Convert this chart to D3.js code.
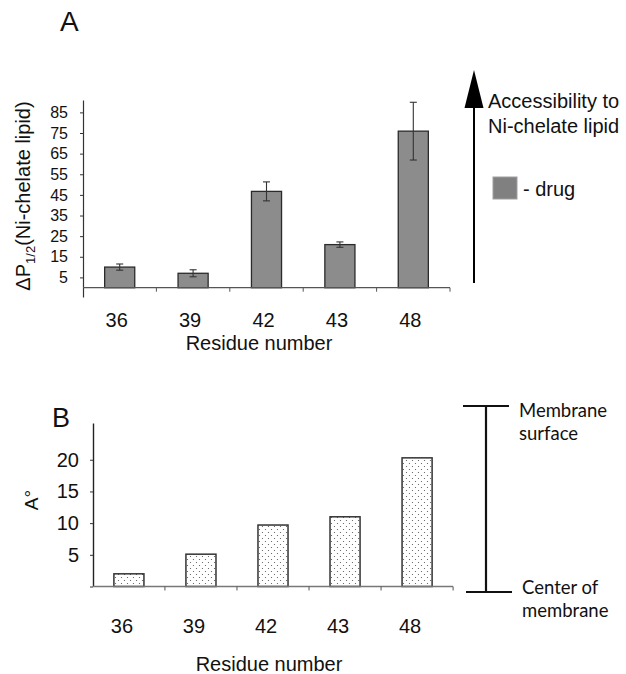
<!DOCTYPE html>
<html>
<head>
<meta charset="utf-8">
<script src="https://cdn.jsdelivr.net/npm/d3@7"></script>
<style>
  body { margin: 0; background: #fff; }
  svg text { font-family: "Liberation Sans", Arial, sans-serif; fill: #111; }
  .note { font-family: Lato, "Open Sans", sans-serif; }
</style>
</head>
<body>
<div class="figure"></div>
<script>
//residues on the x axis (same for both panels)
const residues = ['36', '39', '42', '43', '48'];

//panel A: delta P1/2 with error bars
const accessValues = [10, 7, 46.7, 20.9, 75.9];
const accessErrors = [1.5, 1.7, 4.6, 1.3, 14];
const accessTicks = [5, 15, 25, 35, 45, 55, 65, 75, 85];

//panel B: depth in angstrom
const depthValues = [2, 5.1, 9.7, 11, 20.3];
const depthTicks = [0, 5, 10, 15, 20];

const svg = d3.select('.figure')
    .append('svg')
    .attr('width', 626)
    .attr('height', 674);

//dotted fill for panel B bars
const pattern = svg.append('defs')
    .append('pattern')
    .attr('id', 'dots')
    .attr('patternUnits', 'userSpaceOnUse')
    .attr('width', 6)
    .attr('height', 6);
pattern.append('rect').attr('width', 6).attr('height', 6).attr('fill', '#fff');
pattern.selectAll('circle')
    .data([[1.5, 1.5], [4.5, 4.5]])
    .enter()
    .append('circle')
    .attr('cx', d => d[0])
    .attr('cy', d => d[1])
    .attr('r', 0.6)
    .attr('fill', '#555');

//tick lines between the bands, hanging below the baseline
function bandTicks(g, x, y0) {
    const step = x.step();
    g.selectAll('.btick')
        .data(residues)
        .enter()
        .append('line')
        .attr('class', 'btick')
        .attr('x1', d => x(d) + x.bandwidth() + (step - x.bandwidth()) / 2)
        .attr('x2', d => x(d) + x.bandwidth() + (step - x.bandwidth()) / 2)
        .attr('y1', y0)
        .attr('y2', y0 + 4)
        .attr('stroke', '#555');
}

// ---------------- panel A ----------------
const xA = d3.scaleBand()
    .domain(residues)
    .range([83, 450])
    .paddingInner(0.59)
    .paddingOuter(0.295);

const yA = d3.scaleLinear()
    .domain([-4.5, 91])
    .range([297, 100]);

svg.append('text')
    .attr('x', 60)
    .attr('y', 31)
    .style('font-size', '28px')
    .text('A');

//bars
svg.append('g')
    .selectAll('rect')
    .data(accessValues)
    .enter()
    .append('rect')
    .attr('x', (d, i) => xA(residues[i]))
    .attr('y', d => yA(d))
    .attr('width', xA.bandwidth())
    .attr('height', d => yA(0) - yA(d))
    .attr('fill', '#8c8c8c')
    .attr('stroke', '#2b2b2b')
    .attr('stroke-width', 1.3);

//error bars
const err = svg.append('g')
    .selectAll('g')
    .data(accessValues)
    .enter()
    .append('g')
    .attr('transform', (d, i) => `translate(${xA(residues[i]) + xA.bandwidth() / 2},0)`)
    .attr('stroke', '#333')
    .attr('stroke-width', 1.1);
err.append('line')
    .attr('y1', (d, i) => yA(d - accessErrors[i]))
    .attr('y2', (d, i) => yA(d + accessErrors[i]));
err.append('line')
    .attr('x1', -3.5).attr('x2', 3.5)
    .attr('y1', (d, i) => yA(d + accessErrors[i]))
    .attr('y2', (d, i) => yA(d + accessErrors[i]));
err.append('line')
    .attr('x1', -3.5).attr('x2', 3.5)
    .attr('y1', (d, i) => yA(d - accessErrors[i]))
    .attr('y2', (d, i) => yA(d - accessErrors[i]));

//y axis
const yAxisA = svg.append('g')
    .attr('transform', 'translate(83,0)')
    .call(d3.axisLeft(yA).tickValues(accessTicks).tickSizeInner(3).tickSizeOuter(0).tickPadding(12));
yAxisA.select('.domain').attr('stroke', '#333').attr('stroke-width', 1.2);
yAxisA.selectAll('.tick line').attr('stroke', '#333');
yAxisA.selectAll('text').style('font-size', '16px').attr('fill', '#333');

//baseline and category labels
svg.append('line')
    .attr('x1', 83).attr('x2', 450)
    .attr('y1', yA(0)).attr('y2', yA(0))
    .attr('stroke', '#555')
    .attr('stroke-width', 1.2);
const xAxisA = svg.append('g')
    .attr('transform', `translate(0,${yA(0)})`)
    .call(d3.axisBottom(xA).tickSize(0).tickPadding(25));
xAxisA.select('.domain').remove();
xAxisA.selectAll('text').style('font-size', '20px').attr('dx', -3);
bandTicks(svg.append('g'), xA, yA(0));

svg.append('text')
    .attr('x', 259)
    .attr('y', 350)
    .attr('text-anchor', 'middle')
    .style('font-size', '20px')
    .text('Residue number');

const yLabA = svg.append('text')
    .attr('transform', 'translate(30,196) rotate(-90)')
    .attr('text-anchor', 'middle')
    .style('font-size', '20px');
yLabA.append('tspan').text('ΔP');
yLabA.append('tspan').attr('dy', 5).style('font-size', '13px').text('1/2');
yLabA.append('tspan').attr('dy', -5).text('(Ni-chelate lipid)');

//accessibility arrow
svg.append('line')
    .attr('x1', 474).attr('x2', 474)
    .attr('y1', 104).attr('y2', 283)
    .attr('stroke', '#000')
    .attr('stroke-width', 2);
svg.append('path')
    .attr('d', 'M474,70 L464.5,108 L483.5,108 Z')
    .attr('fill', '#000');
svg.append('text').attr('x', 488).attr('y', 108).style('font-size', '20px').text('Accessibility to');
svg.append('text').attr('x', 488).attr('y', 133).style('font-size', '20px').text('Ni-chelate lipid');

//legend
svg.append('rect')
    .attr('x', 493).attr('y', 177)
    .attr('width', 24).attr('height', 22)
    .attr('fill', '#808080')
    .attr('stroke', '#a0a0a0');
svg.append('text').attr('x', 523).attr('y', 196).style('font-size', '20px').text('- drug');

// ---------------- panel B ----------------
const xB = d3.scaleBand()
    .domain(residues)
    .range([93, 453])
    .paddingInner(0.583)
    .paddingOuter(0.29);

const yB = d3.scaleLinear()
    .domain([0, 25.8])
    .range([586.5, 423]);

svg.append('text')
    .attr('x', 52)
    .attr('y', 427)
    .style('font-size', '27px')
    .text('B');

svg.append('g')
    .selectAll('rect')
    .data(depthValues)
    .enter()
    .append('rect')
    .attr('x', (d, i) => xB(residues[i]))
    .attr('y', d => yB(d))
    .attr('width', xB.bandwidth())
    .attr('height', d => yB(0) - yB(d))
    .attr('fill', 'url(#dots)')
    .attr('stroke', '#333')
    .attr('stroke-width', 1.5);

const yAxisB = svg.append('g')
    .attr('transform', 'translate(93,0)')
    .call(d3.axisLeft(yB).tickValues(depthTicks).tickSizeInner(3).tickSizeOuter(0).tickPadding(11)
        .tickFormat(d => d === 0 ? '' : d));
yAxisB.select('.domain').attr('stroke', '#222').attr('stroke-width', 1.4);
yAxisB.selectAll('.tick line').attr('stroke', '#333');
yAxisB.selectAll('text').style('font-size', '20px').attr('fill', '#222');

svg.append('line')
    .attr('x1', 93).attr('x2', 453)
    .attr('y1', yB(0)).attr('y2', yB(0))
    .attr('stroke', '#777')
    .attr('stroke-width', 1.6);
const xAxisB = svg.append('g')
    .attr('transform', `translate(0,${yB(0)})`)
    .call(d3.axisBottom(xB).tickSize(0).tickPadding(32));
xAxisB.select('.domain').remove();
xAxisB.selectAll('text').style('font-size', '20px').attr('dx', -7);
bandTicks(svg.append('g'), xB, yB(0));

svg.append('text')
    .attr('x', 269)
    .attr('y', 671)
    .attr('text-anchor', 'middle')
    .style('font-size', '20px')
    .text('Residue number');

svg.append('text')
    .attr('transform', 'translate(38,500) rotate(-90)')
    .attr('text-anchor', 'middle')
    .style('font-size', '19px')
    .text('A°');

//membrane depth bracket
const bracket = svg.append('g').attr('stroke', '#111').attr('stroke-width', 2.2);
bracket.append('line').attr('x1', 486).attr('x2', 486).attr('y1', 406).attr('y2', 592);
bracket.append('line').attr('x1', 463).attr('x2', 509).attr('y1', 406).attr('y2', 406);
bracket.append('line').attr('x1', 466).attr('x2', 512).attr('y1', 592).attr('y2', 592);

svg.append('text').attr('class', 'note').attr('x', 519).attr('y', 417).style('font-size', '18.5px').text('Membrane');
svg.append('text').attr('class', 'note').attr('x', 519).attr('y', 440).style('font-size', '18.5px').text('surface');
svg.append('text').attr('class', 'note').attr('x', 522).attr('y', 594).style('font-size', '18.5px').text('Center of');
svg.append('text').attr('class', 'note').attr('x', 522).attr('y', 617).style('font-size', '18.5px').text('membrane');
</script>
</body>
</html>
